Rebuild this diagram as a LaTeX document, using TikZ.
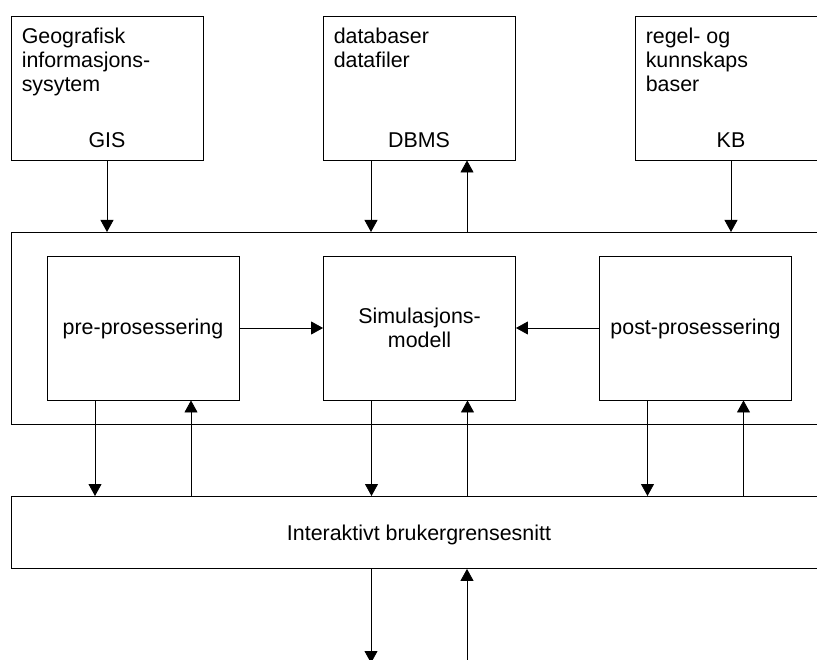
\documentclass[tikz,border=0pt]{standalone}
\usepackage{fontspec}
\setmainfont{Liberation Sans}
\usetikzlibrary{arrows.meta}

\begin{document}
\begin{tikzpicture}[x=1pt,y=-1pt,
  box/.style={draw, line width=0.9pt, inner sep=0pt, minimum width=192pt, minimum height=144pt},
  wide/.style={draw, line width=0.9pt, inner sep=0pt, anchor=north west, minimum width=840pt},
  txt/.style={inner sep=0pt, font=\fontsize{21.4}{24}\selectfont},
  link/.style={line width=0.8pt, -{Triangle[length=12pt,width=13pt]}},
]
\clip (0,0) rectangle (817,660);

% external sources
\node[box] (gis)  at (107,88) {};
\node[box] (dbms) at (419,88) {};
\node[box] (kb)   at (731,88) {};
\node[txt, anchor=north west, align=left] (gisT) at ([shift={(11pt,-12pt)}]gis.north west) {Geografisk\\informasjons-\\sysytem};
\node[txt, anchor=north west, align=left] (dbmsT) at ([shift={(11pt,-12pt)}]dbms.north west) {databaser\\datafiler};
\node[txt, anchor=north west, align=left] (kbT) at ([shift={(11pt,-12pt)}]kb.north west) {regel- og\\kunnskaps\\baser};
\node[txt, anchor=base] (gisL)  at ([yshift=13pt]gis.south)  {GIS};
\node[txt, anchor=base] (dbmsL) at ([yshift=13pt]dbms.south) {DBMS};
\node[txt, anchor=base] (kbL)   at ([yshift=13pt]kb.south)   {KB};

% processing core
\node[wide, minimum height=192pt] (core) at (11,232) {};
\node[box] (pre)  at (143,328) {};
\node[box] (sim)  at (419.5,328) {};
\node[box] (post) at (695.5,328) {};
\node[txt, anchor=base] (preT) at ([yshift=-7pt]pre.center) {pre-prosessering};
\node[txt, align=center] (simT) at (sim.center) {Simulasjons-\\modell};
\node[txt, anchor=base] (postT) at ([yshift=-7pt]post.center) {post-prosessering};

% user interface
\node[wide, minimum height=72pt] (ui) at (11,496) {};
\node[txt, anchor=base] (uiT) at (419,540) {Interaktivt brukergrensesnitt};

% connection points
\coordinate (dbD)  at ([xshift=-48pt]dbms.south);
\coordinate (dbU)  at ([xshift=48pt]dbms.south);
\coordinate (preD) at ([xshift=-48pt]pre.south);
\coordinate (preU) at ([xshift=48pt]pre.south);
\coordinate (simD) at ([xshift=-48pt]sim.south);
\coordinate (simU) at ([xshift=48pt]sim.south);
\coordinate (postD) at ([xshift=-48pt]post.south);
\coordinate (postU) at ([xshift=48pt]post.south);
\coordinate (outD) at (371,663);
\coordinate (outU) at (467,663);

% sources to core
\draw[link] (gis.south) -- (gis.south |- core.north);
\draw[link] (dbD) -- (dbD |- core.north);
\draw[link] (dbU |- core.north) -- (dbU);
\draw[link] (kb.south) -- (kb.south |- core.north);

% inside the core
\draw[link] (pre.east) -- (sim.west);
\draw[link] (post.west) -- (sim.east);

% core to interface
\draw[link] (preD) -- (preD |- ui.north);
\draw[link] (preU |- ui.north) -- (preU);
\draw[link] (simD) -- (simD |- ui.north);
\draw[link] (simU |- ui.north) -- (simU);
\draw[link] (postD) -- (postD |- ui.north);
\draw[link] (postU |- ui.north) -- (postU);

% interface to user
\draw[link] (outD |- ui.south) -- (outD);
\draw[link] (outU) -- (outU |- ui.south);
\end{tikzpicture}
\end{document}
